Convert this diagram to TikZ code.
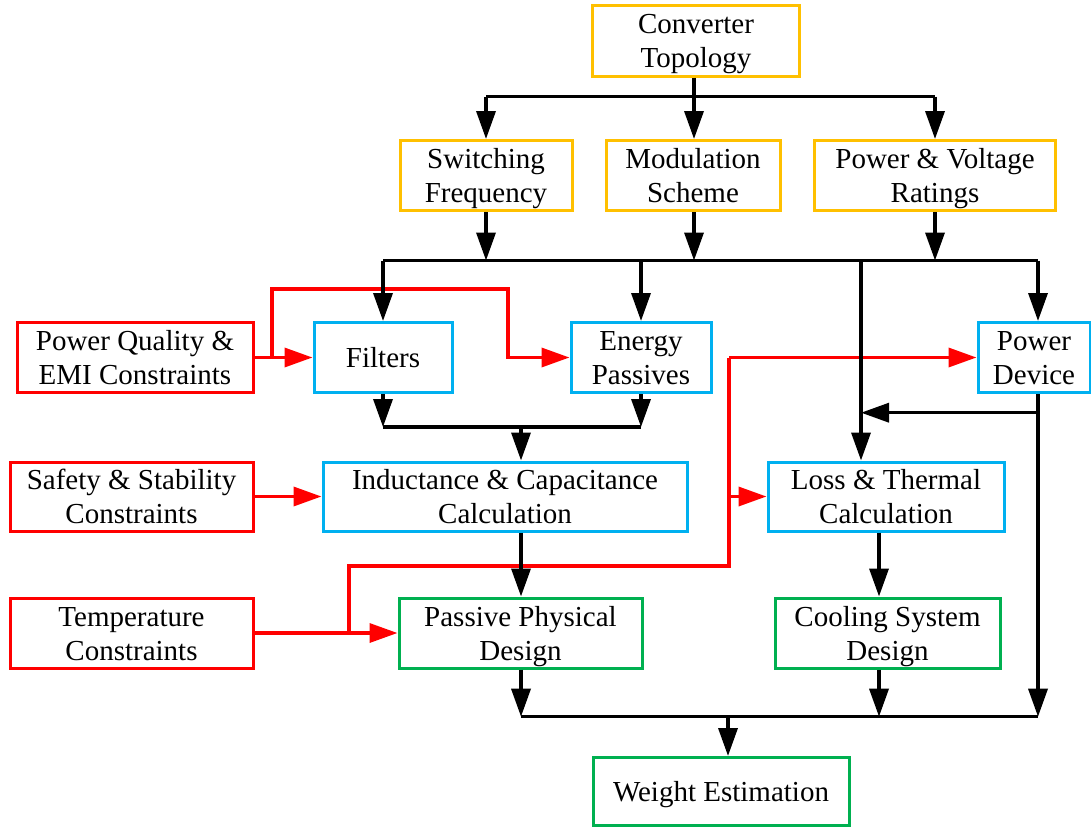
\documentclass[tikz,border=0pt]{standalone}
\usepackage{fontspec}
\setmainfont{Liberation Serif}
\usetikzlibrary{arrows.meta}
\definecolor{cgold}{HTML}{FFC000}
\definecolor{cblue}{HTML}{00B0F0}
\definecolor{cgreen}{HTML}{00B050}
\definecolor{cred}{HTML}{FF0000}
% box text: rows on fixed struts, set a little below the geometric centre
\newcommand\lbl[1]{\raisebox{-3.5pt}[\height][\depth]{\begin{tabular}{@{}c@{}}#1\end{tabular}}}
\tikzset{
  box/.style={draw, line width=3pt, align=center, inner sep=0pt,
    font=\fontsize{29}{34}\selectfont, fill=white},
  gold/.style={box, draw=cgold},
  blue/.style={box, draw=cblue},
  green/.style={box, draw=cgreen},
  redbox/.style={box, draw=cred},
  wire/.style={line width=3.5pt, line join=miter},
  flow/.style={wire, -{Triangle[length=28pt,width=19pt]}},
  rwire/.style={wire, draw=cred},
  rflow/.style={flow, draw=cred},
}
\begin{document}
\begin{tikzpicture}[x=1pt,y=-1pt]
\useasboundingbox (0,0) rectangle (1091,827);

% ---- boxes ----
\node[gold, minimum width=207pt, minimum height=71pt] (conv) at (696,40.5) {\lbl{Converter\\Topology}};
\node[gold, minimum width=172pt, minimum height=70pt] (sw)   at (486,175.5) {\lbl{Switching\\Frequency}};
\node[gold, minimum width=174pt, minimum height=70pt] (mod)  at (693,175.5) {\lbl{Modulation\\Scheme}};
\node[gold, minimum width=241pt, minimum height=70pt] (pv)   at (935,175.5) {\lbl{Power \& Voltage\\Ratings}};

\node[redbox, minimum width=236pt, minimum height=70pt] (pq) at (135,357.5) {\lbl{Power Quality \&\\EMI Constraints}};
\node[blue, minimum width=138pt, minimum height=70pt] (fil) at (383,357.5) {\lbl{Filters}};
\node[blue, minimum width=140pt, minimum height=70pt] (ep)  at (641,357.5) {\lbl{Energy\\Passives}};
\node[blue, minimum width=112pt, minimum height=70pt] (pd)  at (1034,357.5) {\lbl{Power\\Device}};

\node[redbox, minimum width=243pt, minimum height=69pt] (ss) at (131.5,496.5) {\lbl{Safety \& Stability\\Constraints}};
\node[blue, minimum width=364pt, minimum height=69pt] (ind) at (505,496.5) {\lbl{Inductance \& Capacitance\\Calculation}};
\node[blue, minimum width=236pt, minimum height=69pt] (lt)  at (886,496.5) {\lbl{Loss \& Thermal\\Calculation}};

\node[redbox, minimum width=243pt, minimum height=70pt] (temp) at (131.5,633) {\lbl{Temperature\\Constraints}};
\node[green, minimum width=243pt, minimum height=70pt] (pp)   at (520.5,633) {\lbl{Passive Physical\\Design}};
\node[green, minimum width=225pt, minimum height=70pt] (cool) at (887.5,633) {\lbl{Cooling System\\Design}};

\node[green, minimum width=256pt, minimum height=68pt] (we) at (721,791.5) {\lbl{Weight Estimation}};

% ---- junction points ----
\coordinate (t1) at (486,96.7);
\coordinate (t2) at (694,96.7);
\coordinate (t3) at (935,96.7);
\coordinate (ua) at (383,260.5);
\coordinate (ub) at (486,260.5);
\coordinate (uc) at (641,260.5);
\coordinate (ud) at (694,260.5);
\coordinate (ue) at (861,260.5);
\coordinate (uf) at (935,260.5);
\coordinate (ug) at (1038,260.5);
\coordinate (ma) at (383,427);
\coordinate (mb) at (521,427);
\coordinate (mc) at (641,427);
\coordinate (fb) at (1038,412.7);
\coordinate (fe) at (861,412.7);
\coordinate (la) at (521,716.7);
\coordinate (lb) at (728,716.7);
\coordinate (lc) at (879,716.7);
\coordinate (ld) at (1038,716.7);
\coordinate (ra) at (272,357.5);
\coordinate (rb) at (272,289);
\coordinate (rc) at (508,289);
\coordinate (rd) at (508,357.5);
\coordinate (re) at (349,633);
\coordinate (rf) at (349,566);
\coordinate (rg) at (729,566);
\coordinate (rh) at (729,496.5);
\coordinate (ri) at (729,357.5);

% ---- constraint (red) connectors ----
\draw[rflow] (pq.east) -- (fil.west);
\draw[rflow] (ra) -- (rb) -- (rc) -- (rd) -- (ep.west);
\draw[rflow] (ss.east) -- (ind.west);
\draw[rflow] (temp.east) -- (pp.west);
\draw[rwire] (re) -- (rf) -- (rg) -- (ri);
\draw[rflow] (ri) -- (pd.west);
\draw[rflow] (rh) -- (lt.west);

% ---- design flow (black) connectors ----
\draw[wire] (conv.south -| t2) -- (t2);
\draw[wire] (t1) -- (t3);
\draw[flow] (t1) -- (t1 |- sw.north);
\draw[flow] (t2) -- (t2 |- mod.north);
\draw[flow] (t3) -- (t3 |- pv.north);

\draw[flow] (sw.south -| ub) -- (ub);
\draw[flow] (mod.south -| ud) -- (ud);
\draw[flow] (pv.south -| uf) -- (uf);
\draw[wire] (ua) -- (ug);
\draw[flow] (ua) -- (fil.north);
\draw[flow] (uc) -- (ep.north);
\draw[flow] (ue) -- (ue |- lt.north);
\draw[flow] (ug) -- (ug |- pd.north);

\draw[flow] (fil.south) -- (ma);
\draw[flow] (ep.south) -- (mc);
\draw[wire] (ma) -- (mc);
\draw[flow] (mb) -- (mb |- ind.north);
\draw[flow] (ind.south -| mb) -- (mb |- pp.north);

\draw[flow] (pd.south -| ld) -- (ld);
\draw[flow] (fb) -- (fe);
\draw[flow] (lt.south -| lc) -- (lc |- cool.north);

\draw[flow] (pp.south -| la) -- (la);
\draw[flow] (cool.south -| lc) -- (lc);
\draw[wire] (la) -- (ld);
\draw[flow] (lb) -- (lb |- we.north);
\end{tikzpicture}
\end{document}
